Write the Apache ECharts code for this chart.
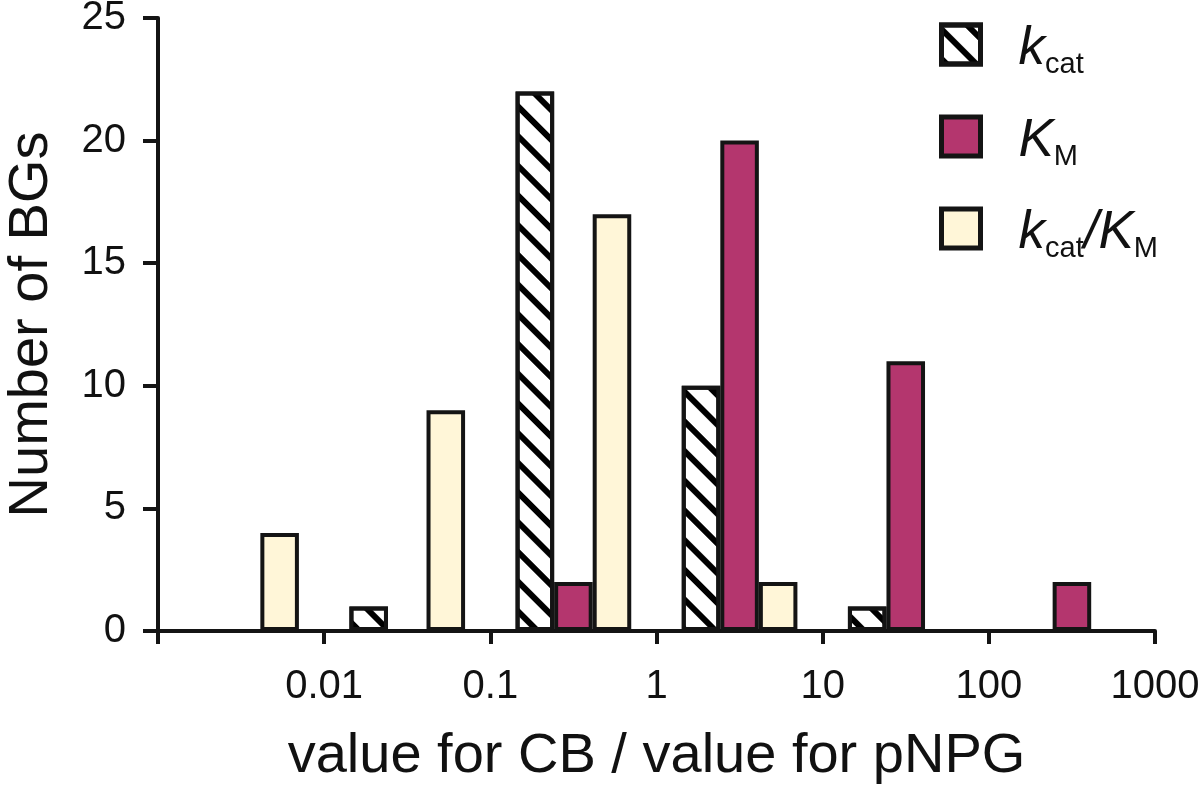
<!DOCTYPE html>
<html>
<head>
<meta charset="utf-8">
<script src="https://cdn.jsdelivr.net/npm/echarts@6/dist/echarts.min.js"></script>
<style>
  html, body { margin: 0; padding: 0; background: #fff; }
  #chart { width: 1200px; height: 787px; }
</style>
</head>
<body>
<div id="chart"></div>
<script>
// Bins between decade boundaries (6 bins)
var bins = ['<0.01', '0.01-0.1', '0.1-1', '1-10', '10-100', '100-1000'];
// Boundary tick labels (value 0..6)
var boundaryLabels = ['', '0.01', '0.1', '1', '10', '100', '1000'];
var yTicks = [0, 5, 10, 15, 20, 25];
// Series values (Number of BGs per bin)
var kcat   = [0, 1, 22, 10, 1, 0];
var KM     = [0, 0, 2, 20, 11, 2];
var kcatKM = [4, 9, 17, 2, 0, 0];

var FONT = 'Liberation Sans, Arial, Helvetica, sans-serif';
var BORDER = '#141414';
var MAGENTA = '#b4366e';
var CREAM = '#fff6d8';

var chart = echarts.init(document.getElementById('chart'), null, { renderer: 'canvas' });

var richLegend = {
  m:  { fontFamily: FONT, fontStyle: 'italic', fontSize: 53, lineHeight: 53, padding: [10, 0, 0, 0], color: '#111' },
  m0: { fontFamily: FONT, fontStyle: 'italic', fontSize: 53, lineHeight: 53, padding: [10, 0, 0, 33], color: '#111' },
  s:  { fontFamily: FONT, fontSize: 29, lineHeight: 29, padding: [40, 0, 0, 0], color: '#111' }
};

var legendText = {
  'kcat': '{m0|k}{s|cat}',
  'KM': '{m0|K}{s|M}',
  'kcat/KM': '{m0|k}{s|cat}{m|/K}{s|M}'
};

function hideZero(arr) {
  return arr.map(function (v) { return v === 0 ? '-' : v; });
}

var option = {
  animation: false,
  backgroundColor: '#fff',
  grid: { left: 158, right: 45, top: 18, bottom: 156, containLabel: false, outerBoundsMode: 'none' },
  legend: {
    orient: 'vertical',
    left: 939,
    top: 10,
    padding: 0,
    itemWidth: 39,
    itemHeight: 39,
    itemGap: 23,
    icon: 'rect',
    selectedMode: false,
    itemStyle: { borderWidth: 5, borderColor: BORDER },
    formatter: function (name) { return legendText[name]; },
    textStyle: { rich: richLegend },
    data: ['kcat', 'KM', 'kcat/KM']
  },
  xAxis: [
    {
      type: 'category',
      data: bins,
      boundaryGap: true,
      position: 'bottom',
      axisLine: { show: true, lineStyle: { color: BORDER, width: 4 } },
      axisTick: { show: true, alignWithLabel: false, length: 13, lineStyle: { color: BORDER, width: 4 } },
      axisLabel: { show: false },
      splitLine: { show: false },
      name: 'value for CB / value for pNPG',
      nameLocation: 'middle',
      nameGap: 98,
      nameTextStyle: { fontFamily: FONT, fontSize: 56, color: '#111' }
    },
    {
      type: 'value',
      min: 0,
      max: 6,
      interval: 1,
      position: 'bottom',
      offset: 0,
      axisLine: { show: false },
      axisTick: { show: false },
      splitLine: { show: false },
      axisLabel: {
        show: true,
        showMinLabel: true,
        showMaxLabel: true,
        margin: 36,
        fontFamily: FONT,
        fontSize: 40,
        color: '#111',
        formatter: function (v) { return boundaryLabels[Math.round(v)] || ''; }
      }
    }
  ],
  yAxis: {
    type: 'value',
    min: yTicks[0],
    max: yTicks[yTicks.length - 1],
    interval: 5,
    axisLine: { show: true, lineStyle: { color: BORDER, width: 4 } },
    axisTick: { show: true, length: 15, lineStyle: { color: BORDER, width: 4 } },
    splitLine: { show: false },
    axisLabel: { margin: 32, fontFamily: FONT, fontSize: 40, color: '#111' },
    name: 'Number of BGs',
    nameLocation: 'middle',
    nameGap: 98,
    nameTextStyle: { fontFamily: FONT, fontSize: 56, color: '#111' }
  },
  series: [
    {
      name: 'kcat',
      type: 'bar',
      xAxisIndex: 0,
      data: hideZero(kcat),
      barWidth: '23.2%',
      barGap: '0%',
      itemStyle: {
        color: '#ffffff',
        borderColor: BORDER,
        borderWidth: 4,
        decal: {
          symbol: 'rect',
          symbolSize: 1,
          dashArrayX: [1, 0],
          dashArrayY: [6, 14.5],
          rotation: Math.PI / 4,
          color: '#000000'
        }
      }
    },
    {
      name: 'KM',
      type: 'bar',
      xAxisIndex: 0,
      data: hideZero(KM),
      barWidth: '23.2%',
      barGap: '0%',
      itemStyle: { color: MAGENTA, borderColor: BORDER, borderWidth: 4 }
    },
    {
      name: 'kcat/KM',
      type: 'bar',
      xAxisIndex: 0,
      data: hideZero(kcatKM),
      barWidth: '23.2%',
      barGap: '0%',
      itemStyle: { color: CREAM, borderColor: BORDER, borderWidth: 4 }
    }
  ]
};

chart.setOption(option);
</script>
</body>
</html>
